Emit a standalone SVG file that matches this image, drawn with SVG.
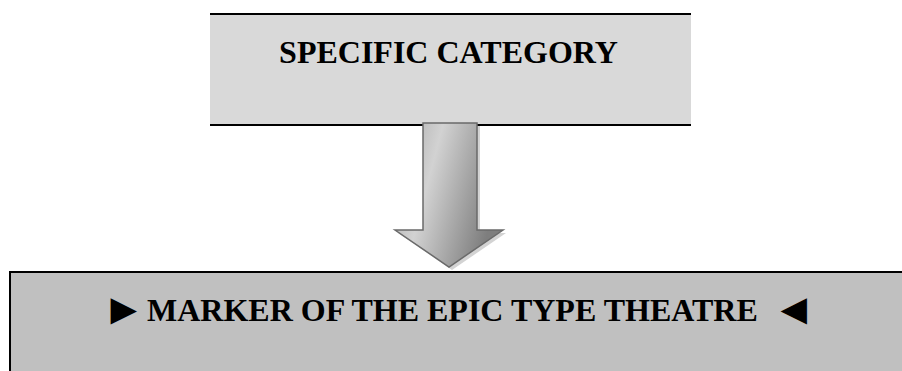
<svg xmlns="http://www.w3.org/2000/svg" width="902" height="371" viewBox="0 0 902 371">
<style>
.lbl{font-family:"Liberation Serif","Times New Roman",serif;font-weight:bold;font-size:32px;fill:#000}
.sym{font-family:"Liberation Serif","Times New Roman",serif;font-size:44px;fill:#000}
.edge{stroke:#000;stroke-width:2;fill:none}
</style>
<defs>
<linearGradient id="ag" x1="0" y1="0" x2="1" y2="0.35">
<stop offset="0" stop-color="#a6a6a6"/>
<stop offset="0.4" stop-color="#d2d2d2"/>
<stop offset="1" stop-color="#7e7e7e"/>
</linearGradient>
</defs>
<rect width="902" height="371" fill="#fff"/>
<g id="node-specific">
<rect x="210" y="14" width="481" height="111" fill="#d9d9d9"/>
<line class="edge" x1="210" y1="14" x2="691" y2="14"/>
<line class="edge" x1="210" y1="125" x2="691" y2="125"/>
<text class="lbl" x="448.5" y="63" text-anchor="middle">SPECIFIC CATEGORY</text>
</g>
<g id="node-marker">
<rect x="10" y="272" width="892" height="99" fill="#c0c0c0"/>
<path class="edge" d="M10 371 V272 H902"/>
<text class="sym" x="102" y="324">►</text>
<text class="lbl" x="147" y="321">MARKER OF THE EPIC TYPE THEATRE</text>
<text class="sym" x="772" y="324">◄</text>
</g>
<g id="connectors">
<path d="M426 126 H480 V233 H506 L452 270 L398 233 H426 Z" fill="#c8c8c8" opacity="0.8"/>
<path d="M423 123 H477 V230 H503 L449 267 L395 230 H423 Z" fill="url(#ag)" stroke="#6a6a6a" stroke-width="1.5" stroke-linejoin="miter"/>
</g>
</svg>
